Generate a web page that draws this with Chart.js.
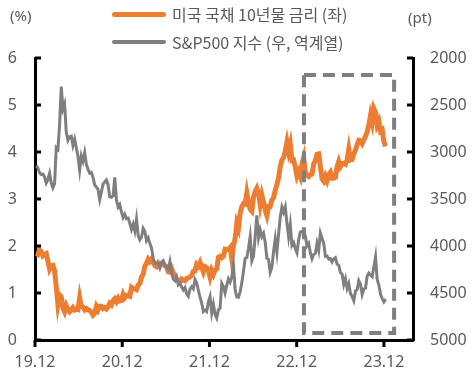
<!DOCTYPE html>
<html>
<head>
<meta charset="utf-8">
<script src="https://cdn.jsdelivr.net/npm/chart.js@4.4.0/dist/chart.umd.min.js"></script>
<style>
  body { margin: 0; background: #fff; }
  #wrap { position: relative; width: 475px; height: 375px; }
  .unit { position: absolute; font: 15px "Noto Sans", sans-serif; color: #595959; line-height: 20px; }
  .leg { position: absolute; left: 112px; height: 20px; display: flex; align-items: center; white-space: nowrap;
         font: 16px "Noto Sans CJK KR", sans-serif; color: #595959; }
  .leg i { display: inline-block; width: 54px; margin-right: 6px; border-radius: 3px; }
</style>
</head>
<body>
<div id="wrap">
  <canvas id="chart1" width="475" height="375"></canvas>
  <div class="unit" style="left:10px; top:5px;">(%)</div>
  <div class="unit" style="left:408px; top:7px;">(pt)</div>
  <div class="leg" style="top:4px;"><i style="height:5px; background:#ed7d31;"></i>미국 국채 10년물 금리 (좌)</div>
  <div class="leg" style="top:32px;"><i style="height:4px; background:#7f7f7f;"></i>S&amp;P500 지수 (우, 역계열)</div>
</div>
<script>
// weekly closes, first week ending 2019-12-06
const firstWeek = Date.UTC(2019, 11, 6);
const axisStart = Date.UTC(2019, 11, 1);

const yield10y = [
  1.84, 1.82, 1.92, 1.88,
  1.79, 1.82, 1.84, 1.68, 1.51, 1.58, 1.59, 1.47, 1.13, 0.76, 0.96, 0.92, 0.68,
  0.60, 0.73, 0.65, 0.60, 0.64, 0.69, 0.64, 0.66, 0.65, 0.90, 0.71, 0.70, 0.64,
  0.67, 0.64, 0.63, 0.59, 0.53, 0.57, 0.71, 0.64, 0.72, 0.72, 0.67, 0.69, 0.66,
  0.70, 0.78, 0.75, 0.84, 0.88, 0.82, 0.89, 0.83, 0.84, 0.97, 0.90, 0.95, 0.94,
  0.93, 1.12, 1.09, 1.09, 1.07, 1.17, 1.20, 1.34, 1.40, 1.57, 1.63, 1.72, 1.67,
  1.72, 1.66, 1.58, 1.56, 1.63, 1.58, 1.63, 1.63, 1.58, 1.56, 1.45, 1.44, 1.52,
  1.43, 1.36, 1.29, 1.28, 1.24, 1.30, 1.28, 1.26, 1.31, 1.32, 1.34, 1.37, 1.46,
  1.47, 1.61, 1.57, 1.65, 1.55, 1.45, 1.56, 1.54, 1.48, 1.34, 1.48, 1.40, 1.49, 1.51,
  1.76, 1.78, 1.75, 1.78, 1.93, 1.92, 1.93, 1.97, 1.73, 2.00, 2.15, 2.48,
  2.38, 2.70, 2.83, 2.90, 2.89, 3.13, 2.93, 2.78, 2.74, 3.04, 3.16, 3.23, 3.13,
  2.88, 3.08, 2.93, 2.77, 2.65, 2.84, 2.84, 2.98, 3.03, 3.19, 3.31, 3.45, 3.69, 3.83,
  3.88, 4.02, 4.21, 4.01, 4.16, 3.82, 3.83, 3.68, 3.49, 3.58, 3.48, 3.75, 3.88,
  3.56, 3.51, 3.48, 3.52, 3.53, 3.74, 3.82, 3.95, 3.96, 3.70, 3.43, 3.38, 3.48,
  3.39, 3.52, 3.57, 3.44, 3.44, 3.46, 3.69, 3.80, 3.69, 3.75, 3.76, 3.74, 3.84,
  4.06, 3.83, 3.84, 3.96, 4.04, 4.16, 4.25, 4.24, 4.18, 4.26, 4.33, 4.43, 4.57,
  4.78, 4.63, 4.92, 4.84, 4.57, 4.65, 4.44, 4.47, 4.22, 4.12
];

const sp500 = [
  3146, 3169, 3221, 3240,
  3235, 3265, 3330, 3295, 3226, 3328, 3380, 3338, 2954, 2972, 2711, 2305, 2541,
  2489, 2790, 2875, 2837, 2831, 2930, 2864, 2955, 3044, 3194, 3041, 3098, 3009,
  3130, 3185, 3225, 3216, 3271, 3351, 3373, 3397, 3508, 3427, 3341, 3319, 3298,
  3348, 3477, 3483, 3465, 3270, 3510, 3585, 3558, 3638, 3699, 3663, 3709, 3703,
  3756, 3824, 3768, 3841, 3714, 3886, 3934, 3906, 3811, 3842, 3943, 3913, 3974,
  4020, 4129, 4185, 4180, 4181, 4232, 4174, 4156, 4204, 4230, 4247, 4166, 4281,
  4352, 4370, 4327, 4412, 4395, 4437, 4468, 4442, 4509, 4535, 4459, 4433, 4455,
  4357, 4391, 4471, 4545, 4605, 4697, 4683, 4698, 4595, 4538, 4712, 4620, 4726, 4766,
  4677, 4663, 4398, 4432, 4501, 4419, 4349, 4385, 4329, 4204, 4463, 4543,
  4546, 4488, 4392, 4272, 4132, 4123, 4024, 3901, 4158, 4109, 3901, 3675, 3912,
  3825, 3899, 3863, 3962, 4130, 4145, 4280, 4228, 4058, 3924, 4067, 3873, 3693, 3586,
  3640, 3583, 3753, 3901, 3771, 3993, 3965, 4026, 4072, 3934, 3852, 3845, 3840,
  3895, 3999, 3973, 4071, 4136, 4090, 4079, 3970, 4046, 3862, 3917, 3971, 4109,
  4105, 4138, 4133, 4169, 4136, 4124, 4192, 4205, 4282, 4299, 4410, 4348, 4450,
  4399, 4505, 4536, 4582, 4478, 4464, 4370, 4406, 4515, 4457, 4450, 4320, 4288,
  4309, 4327, 4224, 4117, 4358, 4415, 4514, 4559, 4595, 4565
];

// x axis: months since 2019-12
const xTickValues = [0, 12, 24, 36, 48];
const xTickLabels = ["19.12", "20.12", "21.12", "22.12", "23.12"];

// dashed highlight box (x in months, y on left axis)
const boxFrom = 37.0, boxTo = 49.4, boxTop = 5.64, boxBottom = 0.15;

function monthAt(i) {
  return (firstWeek - axisStart + i * 7 * 864e5) / 864e5 / 30.44;
}

const overlay = {
  id: "overlay",
  afterDatasetsDraw(chart) {
    const { ctx, scales: { x, left, right } } = chart;
    ctx.save();
    // highlight box
    ctx.strokeStyle = "#7f7f7f";
    ctx.lineWidth = 4;
    ctx.setLineDash([12, 7]);
    const l = x.getPixelForValue(boxFrom), r = x.getPixelForValue(boxTo);
    const t = left.getPixelForValue(boxTop), b = left.getPixelForValue(boxBottom);
    ctx.strokeRect(l, t, r - l, b - t);
    ctx.setLineDash([]);

    // tick marks
    ctx.strokeStyle = "#000";
    ctx.lineWidth = 3;
    ctx.beginPath();
    left.ticks.forEach(tk => {
      const py = left.getPixelForValue(tk.value);
      ctx.moveTo(x.left, py); ctx.lineTo(x.left + 6, py);
    });
    right.ticks.forEach(tk => {
      const py = right.getPixelForValue(tk.value);
      ctx.moveTo(x.right - 6, py); ctx.lineTo(x.right, py);
    });
    x.ticks.forEach(tk => {
      const px = x.getPixelForValue(tk.value);
      ctx.moveTo(px, left.bottom); ctx.lineTo(px, left.bottom + 7);
    });
    ctx.stroke();
    ctx.restore();
  }
};

const tickFont = { family: "'Noto Sans', sans-serif", size: 16 };

new Chart("chart1", {
  type: "line",
  data: {
    datasets: [
      {
        label: "S&P500 지수 (우, 역계열)",
        data: sp500.map((v, i) => ({ x: monthAt(i), y: v })),
        borderColor: "#7f7f7f",
        borderWidth: 3,
        pointRadius: 0,
        fill: false,
        yAxisID: "right",
      },
      {
        label: "미국 국채 10년물 금리 (좌)",
        data: yield10y.map((v, i) => ({ x: monthAt(i), y: v })),
        borderColor: "#ed7d31",
        borderWidth: 5,
        pointRadius: 0,
        fill: false,
        yAxisID: "left",
      },
    ],
  },
  options: {
    responsive: false,
    animation: false,
    devicePixelRatio: 1,
    layout: { padding: { top: 58 } },
    plugins: { legend: { display: false }, tooltip: { enabled: false } },
    scales: {
      x: {
        type: "linear",
        min: 0,
        max: 52,
        afterBuildTicks: s => { s.ticks = xTickValues.map(v => ({ value: v })); },
        afterFit: s => { s.height = 35; },
        ticks: {
          autoSkip: false,
          maxRotation: 0,
          padding: 13,
          color: "#595959",
          font: tickFont,
          callback: v => xTickLabels[xTickValues.indexOf(v)],
        },
        grid: { drawOnChartArea: false, drawTicks: false },
        border: { color: "#000", width: 3 },
      },
      left: {
        type: "linear",
        position: "left",
        min: 0,
        max: 6,
        afterFit: s => { s.width = 35; },
        ticks: { stepSize: 1, padding: 18, color: "#595959", font: tickFont },
        grid: { drawOnChartArea: false, drawTicks: false },
        border: { color: "#000", width: 3 },
      },
      right: {
        type: "linear",
        position: "right",
        min: 2000,
        max: 5000,
        reverse: true,
        afterFit: s => { s.width = 62; },
        ticks: { stepSize: 500, padding: 17, color: "#595959", font: tickFont, callback: v => String(v) },
        grid: { drawOnChartArea: false, drawTicks: false },
        border: { color: "#000", width: 3 },
      },
    },
  },
  plugins: [overlay],
});
</script>
</body>
</html>
